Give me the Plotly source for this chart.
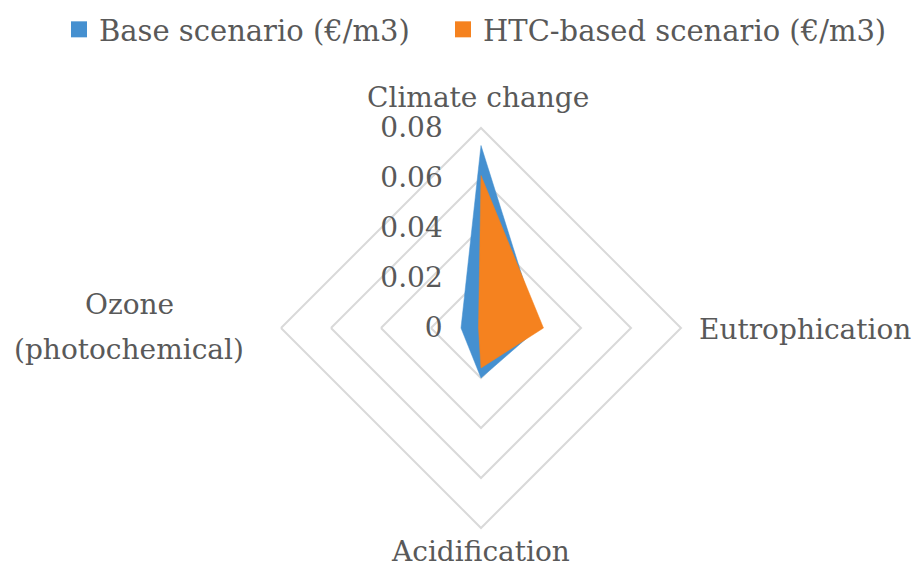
import plotly.graph_objects as go

# Impact categories, clockwise from the top
categories = ["Climate change", "Eutrophication", "Acidification", "Ozone<br>(photochemical)"]

# Costs per cubic metre for each scenario
series_names = ["Base scenario (€/m3)", "HTC-based scenario (€/m3)"]
base_scenario = [0.073, 0.023, 0.020, 0.008]
htc_scenario = [0.061, 0.025, 0.016, 0.001]
series_colors = ["#4590D0", "#F5821F"]

# Radial axis ticks
radial_ticks = [0, 0.02, 0.04, 0.06, 0.08]
radial_labels = ["0", "0.02", "0.04", "0.06", "0.08"]

FONT = "DejaVu Serif"
TEXT = "#595959"
GRID = "#D9D9D9"
SIZE = 28
W, H = 921, 569

# one legend box per series so each entry sits where it should
legend_ids = ["legend", "legend2"]
legend_left = [59, 443]


def closed(values):
    return values + values[:1]


fig = go.Figure()
for name, values, color, lg in zip(series_names, [base_scenario, htc_scenario],
                                   series_colors, legend_ids):
    fig.add_trace(go.Scatterpolar(
        r=closed(values), theta=closed(categories),
        name=name, fill="toself", mode="lines", showlegend=False,
        fillcolor=color, line=dict(color=color, width=0.5),
    ))
    # square swatch for the legend
    fig.add_trace(go.Scatterpolar(
        r=[None], theta=[categories[0]], name=name, mode="markers",
        marker=dict(symbol="square", size=16, color=color), legend=lg,
    ))

# category labels around the diamond (multi-line labels get one line each)
label_pos = [
    dict(x=478, y=97, xanchor="center", gap=0),
    dict(x=697, y=329, xanchor="left", gap=0),
    dict(x=480, y=551, xanchor="center", gap=0),
    dict(x=129, y=327, xanchor="center", gap=45),
]
for text, pos in zip(categories, label_pos):
    lines = text.split("<br>")
    y0 = pos["y"] - pos["gap"] * (len(lines) - 1) / 2
    for i, line in enumerate(lines):
        fig.add_annotation(
            text=line, x=pos["x"] / W, y=1 - (y0 + i * pos["gap"]) / H,
            xref="paper", yref="paper", xanchor=pos["xanchor"], yanchor="middle",
            showarrow=False, align="center",
            font=dict(family=FONT, size=SIZE, color=TEXT),
        )

legend_style = dict(
    orientation="h", xanchor="left", y=0.993, yanchor="top",
    font=dict(family=FONT, size=29, color=TEXT), itemwidth=30,
    bgcolor="rgba(0,0,0,0)",
)

fig.update_layout(
    width=W, height=H,
    margin=dict(l=0, r=0, t=0, b=0),
    paper_bgcolor="white",
    font=dict(family=FONT, color=TEXT, size=SIZE),
    legend=dict(x=legend_left[0] / W, **legend_style),
    legend2=dict(x=legend_left[1] / W, **legend_style),
    polar=dict(
        domain=dict(x=[0.3051, 0.7394], y=[0.07206, 0.77504]),
        bgcolor="white",
        gridshape="linear",
        radialaxis=dict(
            range=[0, 0.08], tickvals=radial_ticks, ticktext=radial_labels,
            angle=90, side="counterclockwise", tickangle=90,
            showline=False, gridcolor=GRID, gridwidth=2,
            ticks="outside", ticklen=28, tickcolor="rgba(0,0,0,0)",
            tickfont=dict(family=FONT, size=SIZE, color=TEXT),
        ),
        angularaxis=dict(
            rotation=90, direction="clockwise",
            showgrid=False, showline=True, linecolor=GRID, linewidth=2,
            ticks="", showticklabels=False,
        ),
    ),
)

fig.write_html("out.html")
